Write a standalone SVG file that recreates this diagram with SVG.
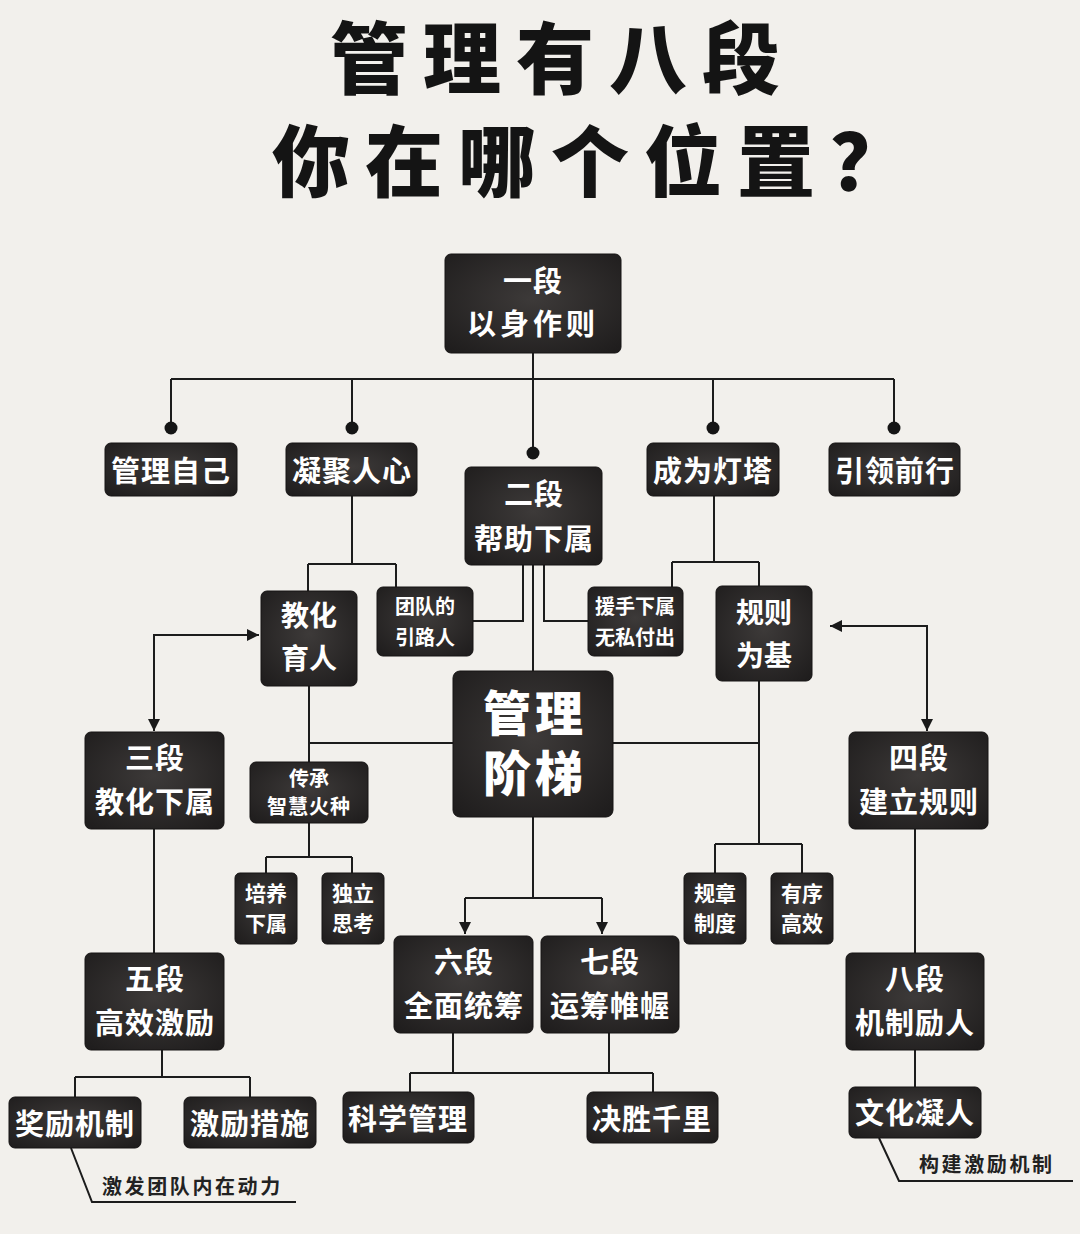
<svg xmlns="http://www.w3.org/2000/svg" width="1080" height="1234" viewBox="0 0 1080 1234">
<defs>
<radialGradient id="bg" cx="50%" cy="45%" r="70%">
<stop offset="0" stop-color="#3d3a39"/>
<stop offset="1" stop-color="#1f1d1d"/>
</radialGradient>
<marker id="ah" viewBox="0 0 12 12" markerWidth="12" markerHeight="12" refX="12" refY="6" orient="auto-start-reverse" markerUnits="userSpaceOnUse">
<path d="M0,0 L12,6 L0,12 z" fill="#1a1a1a"/>
</marker>
<style>
.box{fill:url(#bg);stroke:#161414;stroke-width:1}
.t{fill:#ffffff;font-family:"Noto Sans CJK SC","Noto Sans",sans-serif;font-weight:700;text-anchor:middle;dominant-baseline:central}
.t30{font-size:29px;letter-spacing:1px}
.t28{font-size:28px}
.t22{font-size:21px}
.t20{font-size:20px}
.big{font-size:48px;font-weight:900;letter-spacing:4px}
.c{fill:none;stroke:#1c1c1c;stroke-width:2}
.dot{fill:#151515}
.title{fill:#141414;font-family:"Noto Sans CJK SC","Noto Sans",sans-serif;font-weight:900;font-size:78px;letter-spacing:15px}
.note{fill:#222;font-family:"Noto Sans CJK SC","Noto Sans",sans-serif;font-weight:700;font-size:20px;letter-spacing:2.6px;dominant-baseline:central}
</style>
</defs>
<rect width="1080" height="1234" fill="#f2f0ec"/>

<g id="title">
<text class="title"><tspan x="330" y="88">管理有八段</tspan><tspan x="272" y="191">你在哪个位置？</tspan></text>
</g>

<g id="connectors">
<path class="c" d="M533 353 V453"/>
<path class="c" d="M171 379 H894 M171 379 V428 M352 379 V428 M713 379 V428 M894 379 V428"/>
<circle class="dot" cx="171" cy="428" r="6.5"/>
<circle class="dot" cx="352" cy="428" r="6.5"/>
<circle class="dot" cx="713" cy="428" r="6.5"/>
<circle class="dot" cx="894" cy="428" r="6.5"/>
<circle class="dot" cx="533" cy="453" r="6.5"/>
<path class="c" d="M352 496 V564 M308 564 H396 M308 564 V591 M396 564 V587"/>
<path class="c" d="M714 496 V562 M672 562 H759 M672 562 V587 M759 562 V586"/>
<path class="c" d="M523 565 V621 H473 M544 565 V621 H588 M533 565 V671"/>
<path class="c" d="M309 686 V762 M309 743 H453"/>
<path class="c" d="M759 681 V844 M613 743 H759 M715 844 H802 M715 844 V873 M802 844 V873"/>
<path class="c" d="M309 823 V857 M266 857 H352 M266 857 V873 M352 857 V873"/>
<path class="c" d="M259 635 H154 V731" marker-start="url(#ah)" marker-end="url(#ah)"/>
<path class="c" d="M830 626 H927 V731" marker-start="url(#ah)" marker-end="url(#ah)"/>
<path class="c" d="M154 829 V953 M915 829 V953"/>
<path class="c" d="M533 817 V898 M465 898 H602"/>
<path class="c" d="M465 898 V934" marker-end="url(#ah)"/>
<path class="c" d="M602 898 V934" marker-end="url(#ah)"/>
<path class="c" d="M162 1050 V1077 M75 1077 H250 M75 1077 V1097 M250 1077 V1097"/>
<path class="c" d="M453 1033 V1073 M410 1073 H653 M410 1073 V1092 M653 1073 V1092 M609 1033 V1073"/>
<path class="c" d="M915 1050 V1087"/>
<path class="c" d="M71 1148 L92 1202 H296"/>
<path class="c" d="M879 1138 L899 1181 H1073"/>
</g>

<g id="n1"><rect class="box" x="445" y="254" width="176" height="99" rx="6"/>
<text class="t t30" x="533" y="279">一段</text><text class="t t30" x="533" y="322" style="letter-spacing:4px">以身作则</text></g>
<g id="n-glzj"><rect class="box" x="105" y="443" width="132" height="53" rx="6"/><text class="t t30" x="171" y="469">管理自己</text></g>
<g id="n-njrx"><rect class="box" x="286" y="443" width="131" height="53" rx="6"/><text class="t t30" x="352" y="469">凝聚人心</text></g>
<g id="n2"><rect class="box" x="465" y="467" width="137" height="98" rx="6"/>
<text class="t t30" x="534" y="492">二段</text><text class="t t30" x="534" y="537">帮助下属</text></g>
<g id="n-cwdt"><rect class="box" x="647" y="443" width="132" height="53" rx="6"/><text class="t t30" x="713" y="469">成为灯塔</text></g>
<g id="n-ylqx"><rect class="box" x="829" y="443" width="131" height="53" rx="6"/><text class="t t30" x="895" y="469">引领前行</text></g>

<g id="n-jhyr"><rect class="box" x="261" y="591" width="96" height="95" rx="6"/>
<text class="t t28" x="309" y="614">教化</text><text class="t t28" x="309" y="657">育人</text></g>
<g id="n-tdyl"><rect class="box" x="377" y="587" width="96" height="69" rx="6"/>
<text class="t t20" x="425" y="605">团队的</text><text class="t t20" x="425" y="636">引路人</text></g>
<g id="n-yssx"><rect class="box" x="588" y="587" width="95" height="69" rx="6"/>
<text class="t t20" x="635" y="605">援手下属</text><text class="t t20" x="635" y="636">无私付出</text></g>
<g id="n-gzwj"><rect class="box" x="716" y="586" width="96" height="95" rx="6"/>
<text class="t t28" x="764" y="611">规则</text><text class="t t28" x="764" y="654">为基</text></g>

<g id="n3"><rect class="box" x="85" y="732" width="139" height="97" rx="6"/>
<text class="t t30" x="155" y="756">三段</text><text class="t t30" x="155" y="800">教化下属</text></g>
<g id="n-center"><rect class="box" x="453" y="671" width="160" height="146" rx="7"/>
<text class="t big"><tspan x="535" y="710">管理</tspan><tspan x="535" y="770">阶梯</tspan></text></g>
<g id="n4"><rect class="box" x="849" y="732" width="139" height="97" rx="6"/>
<text class="t t30" x="919" y="756">四段</text><text class="t t30" x="919" y="800">建立规则</text></g>

<g id="n-cczh"><rect class="box" x="250" y="762" width="118" height="61" rx="6"/>
<text class="t t20" x="309" y="777">传承</text><text class="t t20" x="309" y="805" style="letter-spacing:1px">智慧火种</text></g>
<g id="n-pyxs"><rect class="box" x="235" y="873" width="62" height="71" rx="5"/>
<text class="t t22" x="266" y="892">培养</text><text class="t t22" x="266" y="922">下属</text></g>
<g id="n-dlsk"><rect class="box" x="322" y="873" width="62" height="71" rx="5"/>
<text class="t t22" x="353" y="892">独立</text><text class="t t22" x="353" y="922">思考</text></g>
<g id="n-gzzd"><rect class="box" x="684" y="873" width="62" height="71" rx="5"/>
<text class="t t22" x="715" y="892">规章</text><text class="t t22" x="715" y="922">制度</text></g>
<g id="n-yxgx"><rect class="box" x="771" y="873" width="62" height="71" rx="5"/>
<text class="t t22" x="802" y="892">有序</text><text class="t t22" x="802" y="922">高效</text></g>

<g id="n5"><rect class="box" x="85" y="953" width="139" height="97" rx="6"/>
<text class="t t30" x="155" y="977">五段</text><text class="t t30" x="155" y="1021">高效激励</text></g>
<g id="n6"><rect class="box" x="394" y="936" width="139" height="97" rx="6"/>
<text class="t t30" x="464" y="960">六段</text><text class="t t30" x="464" y="1004">全面统筹</text></g>
<g id="n7"><rect class="box" x="541" y="936" width="138" height="97" rx="6"/>
<text class="t t30" x="610" y="960">七段</text><text class="t t30" x="610" y="1004">运筹帷幄</text></g>
<g id="n8"><rect class="box" x="846" y="953" width="138" height="97" rx="6"/>
<text class="t t30" x="915" y="977">八段</text><text class="t t30" x="915" y="1021">机制励人</text></g>

<g id="n-jljz"><rect class="box" x="9" y="1097" width="132" height="51" rx="6"/><text class="t t30" x="75" y="1122">奖励机制</text></g>
<g id="n-jlcs"><rect class="box" x="184" y="1097" width="132" height="51" rx="6"/><text class="t t30" x="250" y="1122">激励措施</text></g>
<g id="n-kxgl"><rect class="box" x="343" y="1092" width="131" height="51" rx="6"/><text class="t t30" x="408" y="1117">科学管理</text></g>
<g id="n-jsql"><rect class="box" x="587" y="1092" width="131" height="51" rx="6"/><text class="t t30" x="652" y="1117">决胜千里</text></g>
<g id="n-whnr"><rect class="box" x="849" y="1087" width="132" height="51" rx="6"/><text class="t t30" x="915" y="1111">文化凝人</text></g>

<g id="notes">
<text class="note" x="102" y="1185">激发团队内在动力</text>
<text class="note" x="919" y="1163">构建激励机制</text>
</g>
</svg>
